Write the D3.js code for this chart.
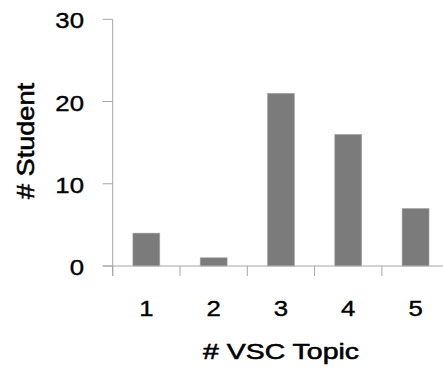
<!DOCTYPE html>
<html><head><meta charset="utf-8">
<script src="https://cdn.jsdelivr.net/npm/d3@7"></script>
<style>
html,body{margin:0;padding:0;background:#fff;}
svg{display:block;}
text{font-family:"Liberation Sans",Arial,sans-serif;fill:#000;stroke:#000;stroke-width:0.4px;}
</style></head>
<body>
<svg id="c" width="443" height="370"></svg>
<script>
const categories = ["1","2","3","4","5"];
const students = [4, 1, 21, 16, 7];
const yTicks = [0, 10, 20, 30];
const xTitle = "# VSC Topic";
const yTitle = "# Student";

(function(){
const svg = d3.select("#c");
const pLeft = 112.7, pRight = 449.2, pTop = 19.3, pBottom = 266;
const axisColor = "#a6a6a6";

const x = d3.scaleBand().domain(categories).range([pLeft, pRight]).paddingInner(0.6).paddingOuter(0.3);
const y = d3.scaleLinear().domain([0, 30]).range([pBottom, pTop]);

// bars
svg.append("g").selectAll("rect").data(students).join("rect")
  .attr("x", (d,i) => x(categories[i]))
  .attr("y", d => y(d))
  .attr("width", x.bandwidth())
  .attr("height", d => y(0) - y(d))
  .attr("fill", "#7b7b7b")
  .attr("stroke", "#a8a8a8")
  .attr("stroke-width", 0.6);

// y axis
const gy = svg.append("g");
gy.append("line").attr("x1", pLeft).attr("x2", pLeft).attr("y1", pTop).attr("y2", pBottom + 10)
  .attr("stroke", axisColor).attr("stroke-width", 1);
gy.selectAll("line.t").data(yTicks).join("line").attr("class","t")
  .attr("x1", pLeft - 10).attr("x2", pLeft).attr("y1", d => y(d)).attr("y2", d => y(d))
  .attr("stroke", axisColor).attr("stroke-width", 1);
gy.selectAll("text").data(yTicks).join("text")
  .attr("x", 84).attr("y", d => y(d) + 9)
  .attr("text-anchor", "end")
  .attr("font-size", 23)
  .attr("transform", `translate(84,0) scale(1.12,1) translate(-84,0)`)
  .text(d => d);

// x axis
const gx = svg.append("g");
gx.append("line").attr("x1", pLeft - 10).attr("x2", pRight).attr("y1", pBottom).attr("y2", pBottom)
  .attr("stroke", axisColor).attr("stroke-width", 1);
const bounds = d3.range(categories.length + 1).map(i => x.range()[0] + i * x.step());
gx.selectAll("line.t").data(bounds).join("line").attr("class","t")
  .attr("x1", d => d).attr("x2", d => d).attr("y1", pBottom).attr("y2", pBottom + 10)
  .attr("stroke", axisColor).attr("stroke-width", 1);
gx.selectAll("text").data(categories).join("text")
  .attr("x", d => x(d) + x.bandwidth()/2).attr("y", 316)
  .attr("text-anchor", "middle")
  .attr("font-size", 23)
  .attr("transform", d => { const cx = x(d) + x.bandwidth()/2; return `translate(${cx},0) scale(1.12,1) translate(${-cx},0)`; })
  .text(d => d);

// titles
svg.append("text").attr("x", 281).attr("y", 359.3).attr("text-anchor", "middle")
  .attr("font-size", 22).attr("textLength", 156).attr("lengthAdjust", "spacingAndGlyphs")
  .style("stroke-width", "0.55px")
  .text(xTitle);
svg.append("text").attr("transform", "translate(34.3,141) rotate(-90)")
  .attr("text-anchor", "middle").attr("font-size", 24)
  .attr("textLength", 116).attr("lengthAdjust", "spacingAndGlyphs")
  .style("stroke-width", "0.55px")
  .text(yTitle);
})();
</script>
</body></html>
